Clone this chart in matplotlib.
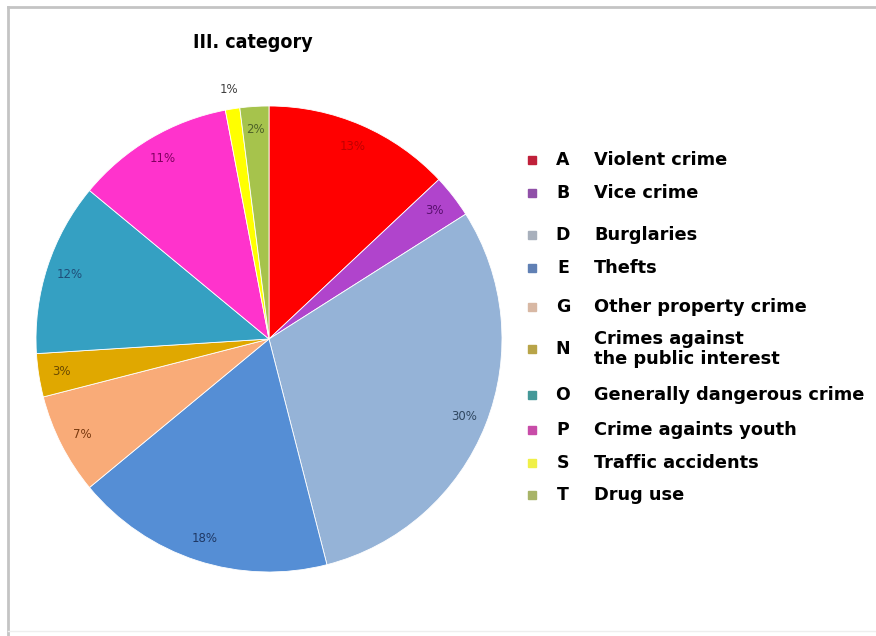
import matplotlib.pyplot as plt
from matplotlib.patches import Rectangle
from matplotlib.lines import Line2D

# crime categories, share of cases in %
codes = ['A', 'B', 'D', 'E', 'G', 'N', 'O', 'P', 'S', 'T']
names = ['Violent crime', 'Vice crime', 'Burglaries', 'Thefts',
         'Other property crime', 'Crimes against\nthe public interest',
         'Generally dangerous crime', 'Crime againts youth',
         'Traffic accidents', 'Drug use']
shares = [13, 3, 30, 18, 7, 3, 12, 11, 1, 2]

colors = ['#ff0000', '#b044cc', '#95b3d7', '#558ed5', '#f9ab78',
          '#e0a800', '#35a0c2', '#ff33cc', '#ffff00', '#a6c34c']
label_colors = ['#c00000', '#5a1070', '#2f4760', '#1f3864', '#7a3a10',
                '#6a4a00', '#1f4e79', '#800060', '#404040', '#4f6228']
legend_colors = ['#c0203a', '#9050a8', '#a8b0bc', '#6080b4', '#d8b8a4',
                 '#b8a448', '#449898', '#c84ca8', '#f0f048', '#a8b468']

W, H = 876, 636
fig = plt.figure(figsize=(W / 100, H / 100), dpi=100)

# outer frame
fig.add_artist(Line2D([8 / W, 8 / W], [0, 1 - 7 / H], transform=fig.transFigure,
                      color='#c4c4c4', lw=2))
fig.add_artist(Line2D([8 / W, 1], [1 - 7 / H, 1 - 7 / H], transform=fig.transFigure,
                      color='#c4c4c4', lw=2))
fig.add_artist(Line2D([8 / W, 1], [1 - 631 / H, 1 - 631 / H], transform=fig.transFigure,
                      color='#eeeeee', lw=1))

cx, cy, r = 269, 339, 233
ax = fig.add_axes([(cx - r) / W, (H - cy - r) / H, 2 * r / W, 2 * r / H])
wedges, texts, autotexts = ax.pie(
    shares, colors=colors, startangle=90, counterclock=False,
    autopct='%d%%', pctdistance=0.9,
    wedgeprops=dict(edgecolor='white', linewidth=0.6))
ax.set_xlim(-1, 1)
ax.set_ylim(-1, 1)
ax.set_aspect('equal')
ax.axis('off')

for t, c, s in zip(autotexts, label_colors, shares):
    t.set_color(c)
    t.set_fontsize(8.5)
    if s == 1:
        x, y = t.get_position()
        t.set_position((x * 1.085 / 0.9, y * 1.085 / 0.9))

fig.text(253 / W, 1 - 43 / H, 'III. category', ha='center', va='center',
         fontsize=14, fontweight='bold', fontstretch='condensed',
         family=['DejaVu Sans'])

# legend
rows = [160, 193, 235, 268, 307, 349, 395, 430, 463, 495]
for code, name, col, y in zip(codes, names, legend_colors, rows):
    fig.add_artist(Rectangle(((532 - 4) / W, 1 - (y + 4) / H), 8 / W, 8 / H,
                             transform=fig.transFigure, color=col))
    fig.text(563 / W, 1 - y / H, code, ha='center', va='center',
             fontsize=12.5, fontweight='bold')
    fig.text(594 / W, 1 - y / H, name, ha='left', va='center',
             fontsize=12.8, fontweight='bold', linespacing=1.2)

fig.savefig('out.png', dpi=100)
